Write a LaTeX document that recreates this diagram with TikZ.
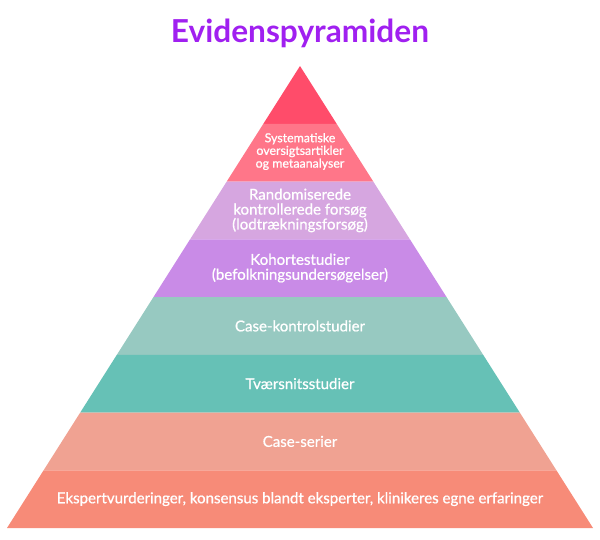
\documentclass[tikz,border=0pt]{standalone}
\usepackage{fontspec}
\setmainfont{Lato}
\newfontfamily\labelfont{Lato}[FakeBold=0.8]
\usetikzlibrary{positioning,calc}
\definecolor{titlepurple}{RGB}{160,32,240}
\definecolor{apexred}{RGB}{255,76,106}
\definecolor{sysred}{RGB}{255,118,137}
\definecolor{rctlilac}{RGB}{214,166,224}
\definecolor{cohortlilac}{RGB}{201,139,231}
\definecolor{caseteal}{RGB}{151,201,193}
\definecolor{crossteal}{RGB}{102,193,182}
\definecolor{seriessalmon}{RGB}{240,162,146}
\definecolor{expertsalmon}{RGB}{247,139,120}
\tikzstyle{title}=[inner sep=0pt, text=titlepurple,
                   font=\fontsize{22.5}{26}\selectfont\bfseries]
\tikzstyle{lbl}  =[inner sep=0pt, text=white, align=center,
                   font=\labelfont\fontsize{10.7}{10.6}\selectfont]
\tikzstyle{small}=[lbl, font=\labelfont\fontsize{8.8}{7.9}\selectfont]

\begin{document}
\begin{tikzpicture}[x=0.025cm, y=-0.025cm]
    \useasboundingbox (0,0) rectangle (600,540);
    % pyramid bands, top to bottom
    \foreach \k/\col in {0/apexred,1/sysred,2/rctlilac,3/cohortlilac,
                         4/caseteal,5/crossteal,6/seriessalmon,7/expertsalmon}
        \fill[\col] ({300-\k*36.625},{66+\k*57.75})
            -- ({300+\k*36.625},{66+\k*57.75})
            -- ({300+(\k+1)*36.625},{66+(\k+1)*57.75})
            -- ({300-(\k+1)*36.625},{66+(\k+1)*57.75}) -- cycle;

    \node[title] (head) at (300,33) {Evidenspyramiden};
    \node[small] (sys) at (300,151.5)
        {Systematiske\\oversigtsartikler\\og metaanalyser};
    \node[lbl] (rct) at (300,210.4)
        {Randomiserede\\kontrollerede forsøg\\(lodtrækningsforsøg)};
    \node[lbl] (cohort) at (300,268.1)
        {Kohortestudier\\(befolkningsundersøgelser)};
    \node[lbl] (casectrl) at (300,325.9) {Case-kontrolstudier};
    \node[lbl] (cross) at (300,383.6) {Tværsnitsstudier};
    \node[lbl] (series) at (300,441.4) {Case-serier};
    \node[lbl] (expert) at (300,499.1)
        {Ekspertvurderinger, konsensus blandt eksperter, klinikeres egne erfaringer};
\end{tikzpicture}
\end{document}
